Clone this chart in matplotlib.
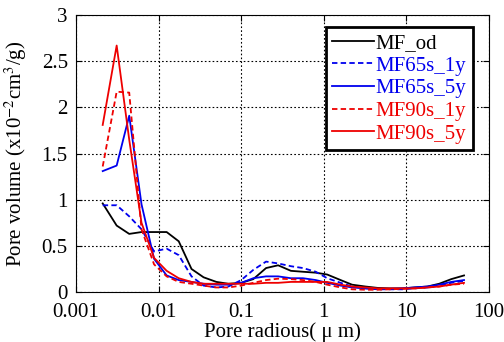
import matplotlib
matplotlib.use("Agg")
import matplotlib.pyplot as plt
from matplotlib.ticker import NullLocator

plt.rcParams['font.family'] = ['Liberation Serif', 'Noto Sans CJK JP', 'DejaVu Sans']
plt.rcParams['mathtext.fontset'] = 'stix'

# pore radius (um), sqrt(2) steps
radius = [0.0021, 0.0031, 0.0044, 0.0062, 0.0088, 0.0125, 0.0175, 0.025, 0.035, 0.05,
          0.07, 0.1, 0.14, 0.2, 0.28, 0.4, 0.56, 0.8, 1.1, 1.6,
          2.2, 3.2, 4.5, 6.3, 9, 12.5, 18, 25, 35, 50]

mf_od = [0.96, 0.72, 0.63, 0.65, 0.65, 0.65, 0.55, 0.25, 0.16, 0.11,
         0.09, 0.10, 0.14, 0.26, 0.29, 0.23, 0.22, 0.21, 0.19, 0.13,
         0.08, 0.06, 0.045, 0.04, 0.04, 0.05, 0.06, 0.09, 0.14, 0.18]
mf65s_1y = [0.94, 0.94, 0.82, 0.68, 0.44, 0.47, 0.40, 0.17, 0.07, 0.05,
            0.06, 0.13, 0.24, 0.33, 0.31, 0.28, 0.26, 0.22, 0.15, 0.10,
            0.06, 0.04, 0.03, 0.03, 0.03, 0.04, 0.05, 0.07, 0.10, 0.12]
mf65s_5y = [1.31, 1.37, 1.91, 0.95, 0.36, 0.18, 0.13, 0.11, 0.09, 0.08,
            0.08, 0.10, 0.15, 0.17, 0.17, 0.15, 0.15, 0.13, 0.10, 0.07,
            0.05, 0.04, 0.035, 0.035, 0.04, 0.05, 0.06, 0.08, 0.11, 0.13]
mf90s_1y = [1.36, 2.17, 2.16, 0.68, 0.30, 0.17, 0.11, 0.09, 0.07, 0.05,
            0.05, 0.07, 0.10, 0.13, 0.145, 0.14, 0.13, 0.11, 0.08, 0.05,
            0.03, 0.025, 0.025, 0.03, 0.035, 0.04, 0.05, 0.06, 0.08, 0.09]
mf90s_5y = [1.81, 2.67, 1.65, 0.75, 0.37, 0.23, 0.15, 0.11, 0.09, 0.09,
            0.09, 0.09, 0.09, 0.10, 0.10, 0.11, 0.11, 0.11, 0.11, 0.08,
            0.06, 0.05, 0.04, 0.04, 0.04, 0.04, 0.05, 0.06, 0.08, 0.10]

xticks = [0.001, 0.01, 0.1, 1, 10, 100]
xtick_labels = ['0.001', '0.01', '0.1', '1', '10', '100']
yticks = [0, 0.5, 1, 1.5, 2, 2.5, 3]
ytick_labels = ['0', '0.5', '1', '1.5', '2', '2.5', '3']

fig = plt.figure(figsize=(5.04, 3.42), dpi=100)
ax = fig.add_axes([0.151, 0.146, 0.819, 0.81])

dash = (0, (3, 1.8))
ax.plot(radius, mf_od, color='black', lw=1.3, label='MF_od')
ax.plot(radius, mf65s_1y, color='#0000ee', lw=1.3, ls=dash, label='MF65s_1y')
ax.plot(radius, mf65s_5y, color='#0000ee', lw=1.3, label='MF65s_5y')
ax.plot(radius, mf90s_1y, color='#ee0000', lw=1.3, ls=dash, label='MF90s_1y')
ax.plot(radius, mf90s_5y, color='#ee0000', lw=1.3, label='MF90s_5y')

ax.set_xscale('log')
ax.set_xlim(0.001, 100)
ax.set_ylim(0, 3)
ax.set_xticks(xticks)
ax.set_xticklabels(xtick_labels)
ax.set_yticks(yticks)
ax.set_yticklabels(ytick_labels)
ax.xaxis.set_minor_locator(NullLocator())
ax.tick_params(direction='in', labelsize=15, length=4, top=True, right=True)
ax.tick_params(axis='x', pad=8)
ax.tick_params(axis='y', pad=6)
ax.grid(True, color='black', ls=(0, (1.5, 2)), lw=0.8)

ax.set_xlabel('Pore radious( μ m)', fontsize=15, labelpad=0)
ax.set_ylabel('Pore volume (x10$^{-2}$cm$^{3}$/g)', fontsize=15, labelpad=9)

leg = ax.legend(loc='upper right', bbox_to_anchor=(0.961, 0.957), fontsize=15,
                frameon=True, fancybox=False, framealpha=1, edgecolor='black',
                labelspacing=0.15, handlelength=2.0, handletextpad=0.1,
                borderpad=0.3, borderaxespad=0)
leg.get_frame().set_linewidth(2)
for text, line in zip(leg.get_texts(), leg.get_lines()):
    text.set_color(line.get_color())

fig.savefig('out.png', dpi=100)
